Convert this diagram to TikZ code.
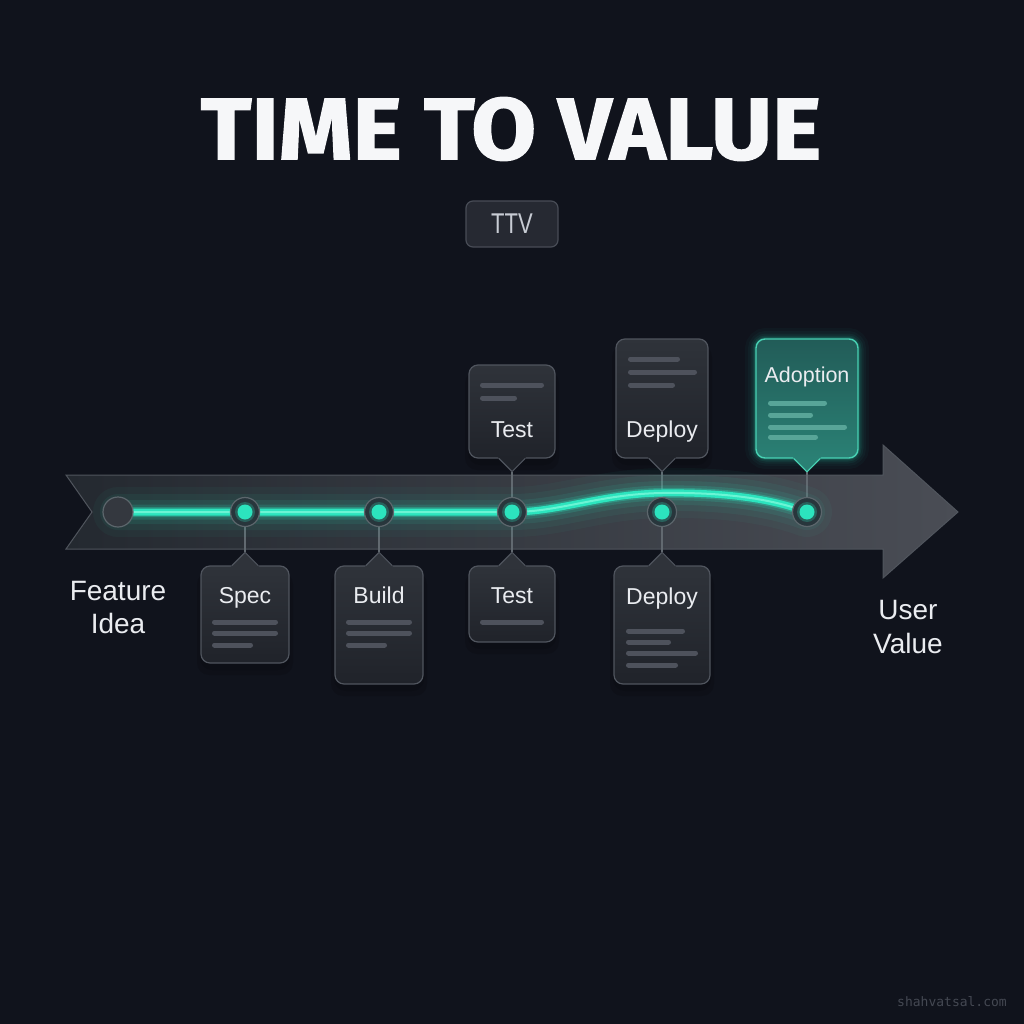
\documentclass[tikz,border=0pt]{standalone}
\usepackage{fontspec}
\usepackage{graphicx}
\setmainfont{Liberation Sans}
\newfontfamily\titlefont{Fira Sans}[BoldFeatures={FakeBold=1.6}]
\newfontfamily\wmfont{DejaVu Sans Mono}
\usetikzlibrary{calc}
\definecolor{bgc}{RGB}{16,19,28}
\definecolor{titlec}{RGB}{246,247,249}
\definecolor{badgefill}{RGB}{38,41,50}
\definecolor{badgeline}{RGB}{72,76,86}
\definecolor{badgetext}{RGB}{200,204,212}
\definecolor{bandl}{RGB}{36,41,48}
\definecolor{bandr}{RGB}{74,77,85}
\definecolor{bandline}{RGB}{80,85,93}
\definecolor{tealc}{RGB}{44,228,190}
\definecolor{tealhi}{RGB}{150,255,228}
\definecolor{ringfill}{RGB}{40,54,60}
\definecolor{ringline}{RGB}{92,102,108}
\definecolor{startfill}{RGB}{52,56,63}
\definecolor{connc}{RGB}{98,105,112}
\definecolor{cardtop}{RGB}{47,51,58}
\definecolor{cardbot}{RGB}{32,35,42}
\definecolor{cardline}{RGB}{80,85,94}
\definecolor{barc}{RGB}{78,82,92}
\definecolor{adotop}{RGB}{34,92,88}
\definecolor{adobot}{RGB}{42,128,116}
\definecolor{adoline}{RGB}{72,210,180}
\definecolor{adobar}{RGB}{88,165,152}
\definecolor{lblc}{RGB}{234,236,240}
\definecolor{wmc}{RGB}{68,72,82}
\pgfdeclarelayer{bgl}
\pgfdeclarelayer{connl}
\pgfsetlayers{bgl,connl,main}
% #1 node, #2 anchor, #3 direction (-1 up, 1 down), #4 fill colour, #5 line colour
\newcommand\cardptr[5]{%
  \fill[#4] ($(#1.#2)+(-14.5,{-2*#3})$) -- ($(#1.#2)+(0,{12*#3})$) -- ($(#1.#2)+(14.5,{-2*#3})$) -- cycle;
  \draw[#5, line width=1.2pt, line join=round] ($(#1.#2)+(-13,0)$) -- ($(#1.#2)+(0,{13*#3})$) coordinate (#1tip) -- ($(#1.#2)+(13,0)$);
}
\newcommand\tlpath{(pstart) -- (ptest) .. controls (560,512) and (600,494) .. (662,493) .. controls (730,492) and (775,500) .. (padopt)}
\begin{document}
\begin{tikzpicture}[x=1pt,y=-1pt,
  badge/.style={rounded corners=7pt, fill=badgefill, draw=badgeline, line width=1.2pt, minimum width=92pt, minimum height=46pt, inner sep=0pt, text=badgetext, font=\fontsize{22}{26}\selectfont},
  card/.style={rounded corners=9pt, top color=cardtop, bottom color=cardbot, draw=cardline, line width=1.2pt, inner sep=0pt},
  adocard/.style={rounded corners=9pt, top color=adotop, bottom color=adobot, draw=adoline, line width=1.4pt, inner sep=0pt},
  cardtitle/.style={anchor=base, inner sep=0pt, text=lblc, font=\fontsize{23}{26}\selectfont},
  lbl/.style={anchor=base, inner sep=0pt, text=lblc, font=\fontsize{28}{31}\selectfont},
  bar/.style={line width=5pt, line cap=round, draw=barc},
  adobarst/.style={line width=5pt, line cap=round, draw=adobar},
  ring/.style={circle, minimum size=29pt, inner sep=0pt, fill=ringfill, draw=ringline, line width=1.2pt},
  startdot/.style={circle, minimum size=30pt, inner sep=0pt, fill=startfill, draw=ringline, line width=1.2pt},
  core/.style={circle, minimum size=15pt, inner sep=0pt, fill=tealc},
  conn/.style={draw=connc, line width=1.6pt},
  shadowst/.style={fill=black, opacity=0.12, rounded corners=12pt},
  wm/.style={inner sep=0pt, text=wmc, font=\wmfont\fontsize{13}{15}\selectfont}
]
\begin{pgfonlayer}{bgl}
\fill[bgc] (0,0) rectangle (1024,1024);
\shadedraw[left color=bandl, right color=bandr, draw=bandline, line width=1pt, line join=miter]
  (66,475) -- (883,475) -- (883,445) -- (958,512) -- (883,578) -- (883,549) -- (66,549) -- (92,512) -- cycle;
\end{pgfonlayer}
\useasboundingbox (0,0) rectangle (1024,1024);

% title and badge
\node[inner sep=0pt, text=titlec] (title) at (511,129) {\resizebox{620pt}{62pt}{\titlefont\bfseries TIME TO VALUE}};
\node[badge] (ttv) at (512,224) {\scalebox{1}[1.3]{TTV}};

% timeline points
\coordinate (pstart) at (118,512);
\coordinate (pspec) at (245,512);
\coordinate (pbuild) at (379,512);
\coordinate (ptest) at (512,512);
\coordinate (pdeploy) at (662,512);
\coordinate (padopt) at (807,512);

% glowing line
\foreach \w/\o in {50/0.04, 36/0.06, 24/0.09, 15/0.16, 10/0.3}
  \draw[tealc, line width=\w pt, opacity=\o, line cap=round] \tlpath;
\draw[tealc, line width=7pt, line cap=round] \tlpath;
\draw[tealhi, line width=2pt, opacity=0.6] \tlpath;

% dots
\node[startdot] (start) at (pstart) {};
\foreach \n in {spec,build,test,deploy,adopt}{
  \node[ring] (d\n) at (p\n) {};
  \fill[tealc, opacity=0.25] (p\n) circle (10);
  \node[core] (c\n) at (p\n) {};
}

% soft shadows under cards
\foreach \l/\t/\r/\b in {201/566/289/663, 335/566/423/684, 469/566/555/642, 614/566/710/684, 469/365/555/458, 616/339/708/458}{
  \fill[shadowst] (\l-4,\t+6) rectangle (\r+4,\b+12);
  \fill[shadowst] (\l-1,\t+4) rectangle (\r+1,\b+7);
}

% cards below
\node[card, minimum width=88pt, minimum height=97pt] (spec) at (245,614.5) {};
\cardptr{spec}{north}{-1}{cardtop}{cardline}
\node[cardtitle] (spect) at (245,603) {Spec};
\draw[bar] (214.5,622) -- (275.5,622);
\draw[bar] (214.5,633) -- (275.5,633);
\draw[bar] (214.5,645) -- (250.5,645);

\node[card, minimum width=88pt, minimum height=118pt] (build) at (379,625) {};
\cardptr{build}{north}{-1}{cardtop}{cardline}
\node[cardtitle] (buildt) at (379,603) {Build};
\draw[bar] (348.5,622) -- (409.5,622);
\draw[bar] (348.5,633) -- (409.5,633);
\draw[bar] (348.5,645) -- (384.5,645);

\node[card, minimum width=86pt, minimum height=76pt] (testb) at (512,604) {};
\cardptr{testb}{north}{-1}{cardtop}{cardline}
\node[cardtitle] (testbt) at (512,603) {Test};
\draw[bar] (482.5,622) -- (541.5,622);

\node[card, minimum width=96pt, minimum height=118pt] (deployb) at (662,625) {};
\cardptr{deployb}{north}{-1}{cardtop}{cardline}
\node[cardtitle] (deploybt) at (662,604) {Deploy};
\draw[bar] (628.5,631) -- (682.5,631);
\draw[bar] (628.5,642) -- (668.5,642);
\draw[bar] (628.5,653) -- (695.5,653);
\draw[bar] (628.5,665) -- (675.5,665);

% cards above
\node[card, minimum width=86pt, minimum height=93pt] (testt) at (512,411.5) {};
\cardptr{testt}{south}{1}{cardbot}{cardline}
\node[cardtitle] (testtt) at (512,437) {Test};
\draw[bar] (482.5,385) -- (541.5,385);
\draw[bar] (482.5,398) -- (514.5,398);

\node[card, minimum width=92pt, minimum height=119pt] (deployt) at (662,398.5) {};
\cardptr{deployt}{south}{1}{cardbot}{cardline}
\node[cardtitle] (deploytt) at (662,437) {Deploy};
\draw[bar] (630.5,359) -- (677.5,359);
\draw[bar] (630.5,372) -- (694.5,372);
\draw[bar] (630.5,385) -- (672.5,385);

\foreach \g/\o in {22/0.03, 16/0.04, 11/0.06, 7/0.09, 4/0.13}
  \draw[tealc, opacity=\o, line width=\g pt, rounded corners=10pt] (756,339) rectangle (858,458);
\node[adocard, minimum width=102pt, minimum height=119pt] (adopt) at (807,398.5) {};
\cardptr{adopt}{south}{1}{adobot}{adoline}
\node[cardtitle, font=\fontsize{21.5}{24}\selectfont] (adoptt) at (807,382) {Adoption};
\draw[adobarst] (770.5,403) -- (824.5,403);
\draw[adobarst] (770.5,415) -- (810.5,415);
\draw[adobarst] (770.5,427) -- (844.5,427);
\draw[adobarst] (770.5,437) -- (815.5,437);

% connectors
\begin{pgfonlayer}{connl}
\draw[conn] (pspec) -- (spectip);
\draw[conn] (pbuild) -- (buildtip);
\draw[conn] (ptest) -- (testbtip);
\draw[conn] (ptest) -- (testttip);
\draw[conn] (pdeploy) -- (deploybtip);
\draw[conn] (pdeploy) -- (deployttip);
\draw[conn] (padopt) -- (adopttip);
\end{pgfonlayer}

% end labels
\node[lbl] (feat1) at (118,600) {Feature};
\node[lbl] (feat2) at (118,633) {Idea};
\node[lbl] (user1) at (908,619) {User};
\node[lbl] (user2) at (908,653) {Value};

\node[wm] (wm) at (952,1002) {shahvatsal.com};
\end{tikzpicture}
\end{document}
